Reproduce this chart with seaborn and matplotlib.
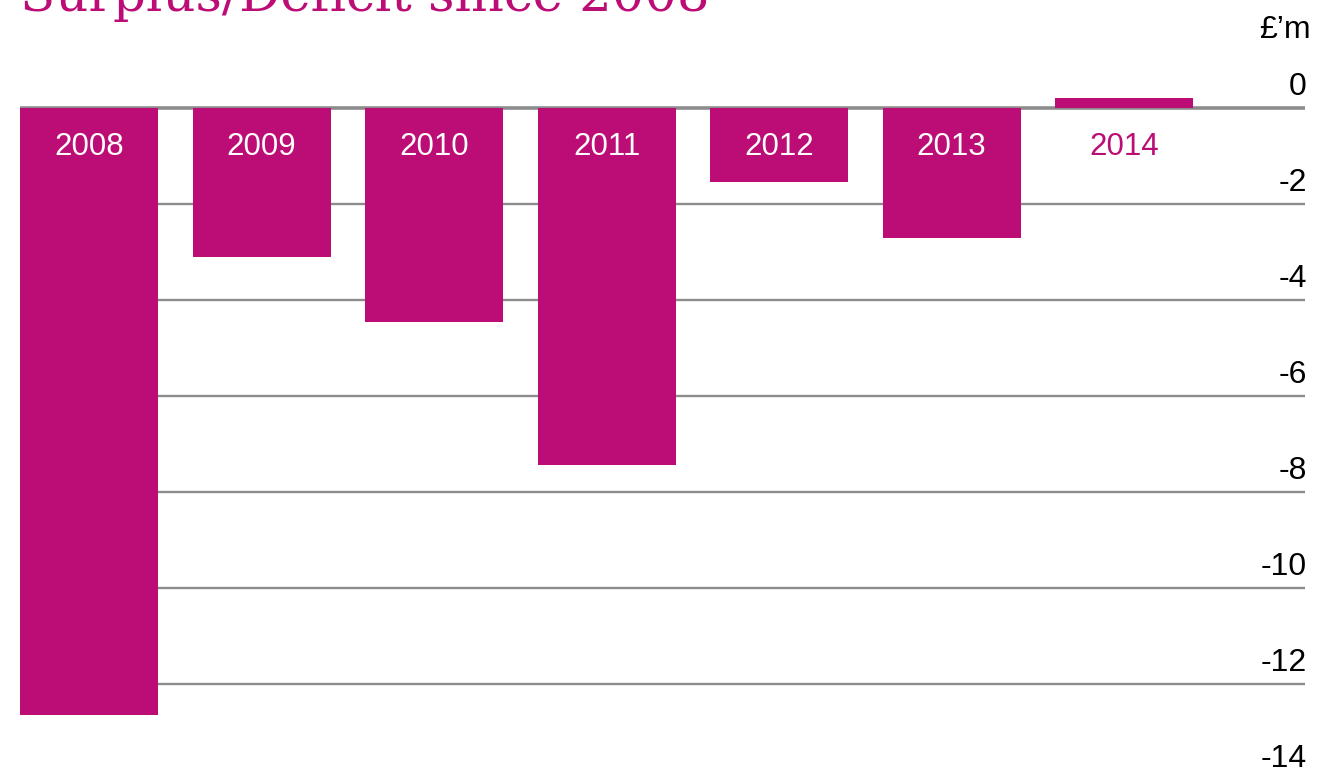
import matplotlib
matplotlib.use("Agg")
import matplotlib.pyplot as plt
import seaborn as sns
import pandas as pd

years = ["2008", "2009", "2010", "2011", "2012", "2013", "2014"]
values = [-12.65, -3.1, -4.45, -7.45, -1.55, -2.7, 0.2]
tick_values = [0, -2, -4, -6, -8, -10, -12, -14]
tick_labels = ["0", "-2", "-4", "-6", "-8", "-10", "-12", "-14"]
unit_label = "£’m"
title = "Surplus/Deficit since 2008"

MAGENTA = "#BC0C75"
GRID = "#8C8C8C"

sns.set_theme(style="white")
plt.rcParams["font.family"] = ["Liberation Sans", "DejaVu Sans"]

df = pd.DataFrame({"year": years, "value": values})

fig = plt.figure(figsize=(13.2, 7.75), dpi=100)
ax = fig.add_axes([0, 0, 1, 1])

# grid lines
x_left, x_right = -0.40, 7.05
for v in tick_values:
    ax.hlines(v, x_left, x_right, color=GRID, lw=2.6 if v == 0 else 1.7, zorder=1)

sns.barplot(data=df, x="year", y="value", color=MAGENTA, saturation=1,
            width=0.8, ax=ax, zorder=3)
for p in ax.patches:
    p.set_edgecolor("none")
    p.set_zorder(3)

# year labels
for i, (yr, v) in enumerate(zip(years, values)):
    ax.text(i, -0.81, yr, ha="center", va="center", fontsize=22.5,
            color="white" if v < 0 else MAGENTA, zorder=4)

# y labels on the right, above each line
for v, lab in zip(tick_values, tick_labels):
    ax.text(7.06, v + 0.27, lab, ha="right", va="baseline", fontsize=23,
            color="black", zorder=4)
ax.text(7.08, 1.46, unit_label, ha="right", va="baseline", fontsize=23,
        color="black")

# clipped title (cut off at the top edge, as in the reference)
ax.text(-0.40, 2.02, title, ha="left", va="baseline", fontsize=37,
        family="DejaVu Serif", color=MAGENTA)

ax.set_xlim(-0.516, 7.136)
ax.set_ylim(-13.9, 2.25)
ax.axis("off")

fig.savefig("out.png", dpi=100)
